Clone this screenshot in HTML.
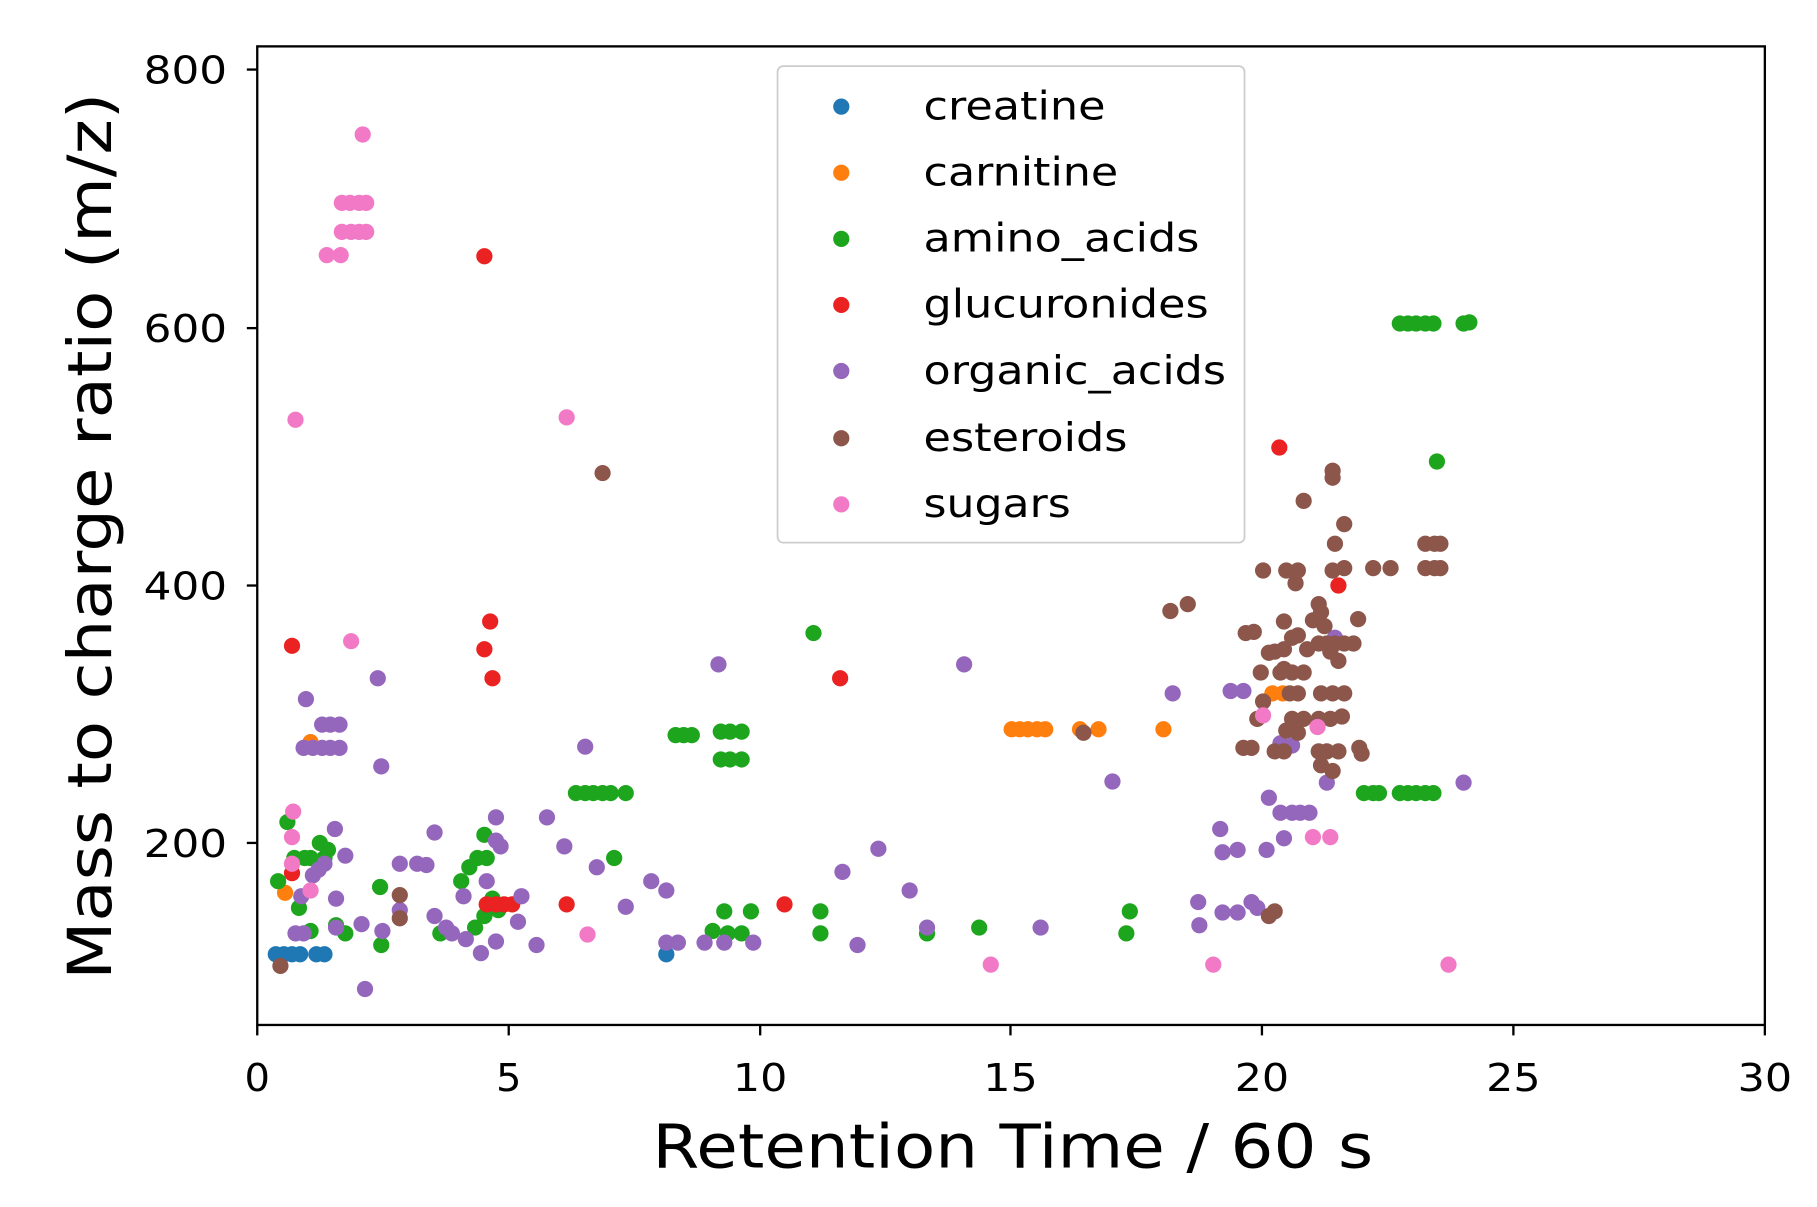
<!DOCTYPE html>
<html><head><meta charset="utf-8"><style>html,body{margin:0;padding:0;background:#fff}svg{display:block}text{font-family:"DejaVu Sans","Liberation Sans",sans-serif;fill:#000}</style></head>
<body>
<svg width="1817" height="1207" viewBox="0 0 1568 1041" preserveAspectRatio="none" xmlns="http://www.w3.org/2000/svg">
<rect width="1568" height="1041" fill="#fff"/>
<g id="pts"></g>
<rect x="222" y="40" width="1301" height="844" fill="none" stroke="#000" stroke-width="2"/>
<g stroke="#000" stroke-width="2">
<line x1="222" y1="884" x2="222" y2="893"/><line x1="439" y1="884" x2="439" y2="893"/><line x1="656" y1="884" x2="656" y2="893"/><line x1="872" y1="884" x2="872" y2="893"/><line x1="1089" y1="884" x2="1089" y2="893"/><line x1="1306" y1="884" x2="1306" y2="893"/><line x1="1523" y1="884" x2="1523" y2="893"/>
<line x1="213" y1="60" x2="222" y2="60"/><line x1="213" y1="283" x2="222" y2="283"/><line x1="213" y1="505" x2="222" y2="505"/><line x1="213" y1="727" x2="222" y2="727"/>
</g>
<g font-size="33" text-anchor="middle" lengthAdjust="spacingAndGlyphs">
<text x="222" y="941" textLength="22" lengthAdjust="spacingAndGlyphs">0</text><text x="439" y="941" textLength="22" lengthAdjust="spacingAndGlyphs">5</text><text x="656" y="941" textLength="47" lengthAdjust="spacingAndGlyphs">10</text><text x="872" y="941" textLength="47" lengthAdjust="spacingAndGlyphs">15</text><text x="1089" y="941" textLength="47" lengthAdjust="spacingAndGlyphs">20</text><text x="1306" y="941" textLength="47" lengthAdjust="spacingAndGlyphs">25</text><text x="1523" y="941" textLength="47" lengthAdjust="spacingAndGlyphs">30</text>
</g>
<g font-size="33" text-anchor="end">
<text x="196" y="72" textLength="72" lengthAdjust="spacingAndGlyphs">800</text><text x="196" y="295" textLength="72" lengthAdjust="spacingAndGlyphs">600</text><text x="196" y="517" textLength="72" lengthAdjust="spacingAndGlyphs">400</text><text x="196" y="739" textLength="72" lengthAdjust="spacingAndGlyphs">200</text>
</g>
<text x="563" y="1007" font-size="52" textLength="622" lengthAdjust="spacingAndGlyphs">Retention Time / 60 s</text>
<text transform="translate(96,845) rotate(-90)" font-size="52" textLength="765" lengthAdjust="spacingAndGlyphs">Mass to charge ratio (m/z)</text>
<rect x="671" y="57" width="403" height="411" rx="5" fill="#fff" fill-opacity="0.85" stroke="#ccc" stroke-width="1.5"/>
<g font-size="34">
<circle cx="726" cy="92" r="7" fill="#1f77b4"/><text x="797" y="103" textLength="157" lengthAdjust="spacingAndGlyphs">creatine</text>
<circle cx="726" cy="149" r="7" fill="#ff7f0e"/><text x="797" y="160" textLength="168" lengthAdjust="spacingAndGlyphs">carnitine</text>
<circle cx="726" cy="206" r="7" fill="#1ea51e"/><text x="797" y="217" textLength="238" lengthAdjust="spacingAndGlyphs">amino_acids</text>
<circle cx="726" cy="263" r="7" fill="#ea2222"/><text x="797" y="274" textLength="246" lengthAdjust="spacingAndGlyphs">glucuronides</text>
<circle cx="726" cy="320" r="7" fill="#9467bd"/><text x="797" y="331" textLength="261" lengthAdjust="spacingAndGlyphs">organic_acids</text>
<circle cx="726" cy="378" r="7" fill="#8c564b"/><text x="797" y="389" textLength="176" lengthAdjust="spacingAndGlyphs">esteroids</text>
<circle cx="726" cy="435" r="7" fill="#f279c6"/><text x="797" y="446" textLength="127" lengthAdjust="spacingAndGlyphs">sugars</text>
</g>
</svg>
<script>
const D={
"#1f77b4":[238,823,245,823,252,823,259,823,273,823,280,823,575,823],
"#ff7f0e":[246,770,268,640,873,629,880,629,887,629,895,629,902,629,932,629,948,629,1004,629,1098,598,1107,598],
"#1ea51e":[240,760,248,709,254,740,258,783,263,740,268,740,268,803,276,727,280,740,283,733,290,798,298,805,328,765,329,815,380,805,398,760,405,748,412,740,418,720,420,740,410,800,418,790,425,775,430,785,497,684,505,684,512,684,520,684,527,684,540,684,530,740,583,634,590,634,597,634,622,631,630,631,640,631,622,655,630,655,640,655,615,803,625,786,628,805,640,805,648,786,702,546,708,786,708,805,800,805,845,800,972,805,975,786,1177,684,1185,684,1190,684,1208,684,1215,684,1222,684,1230,684,1237,684,1208,279,1215,279,1222,279,1230,279,1237,279,1263,279,1268,278,1240,398],
"#ea2222":[252,557,252,753,418,221,418,560,423,536,425,585,420,780,428,780,435,780,442,780,489,780,677,780,725,585,1104,386,1155,505],
"#9467bd":[255,805,260,773,262,805,264,603,262,645,270,645,278,645,285,645,293,645,278,625,285,625,293,625,270,755,275,750,280,745,289,715,290,775,290,800,298,738,312,797,315,853,326,585,329,661,330,803,345,745,345,785,360,745,368,746,375,718,375,790,385,800,390,805,400,773,402,810,415,822,420,760,428,812,428,705,428,725,432,730,447,795,450,773,463,815,472,705,487,730,505,644,515,748,540,782,562,760,575,768,575,813,585,813,608,813,620,573,625,813,650,813,727,752,740,815,758,732,785,768,800,800,832,573,898,800,960,674,1012,598,1034,778,1035,798,1053,715,1055,735,1068,733,1062,596,1073,596,1055,787,1068,787,1080,778,1085,783,1093,733,1095,688,1105,701,1108,723,1115,701,1122,701,1130,701,1105,641,1115,643,1145,675,1152,550,1263,675],
"#8c564b":[242,833,345,772,345,792,520,408,935,632,1010,527,1025,521,1075,546,1082,545,1090,492,1088,580,1090,605,1085,620,1105,580,1095,563,1100,562,1110,492,1120,492,1118,503,1108,536,1108,560,1115,550,1120,548,1128,560,1138,555,1145,555,1152,555,1160,555,1168,555,1108,577,1115,580,1125,580,1113,598,1120,598,1115,620,1125,620,1110,630,1120,632,1133,535,1140,528,1138,521,1143,540,1172,534,1125,432,1150,406,1150,412,1160,452,1152,469,1150,492,1160,490,1185,490,1200,490,1140,598,1150,598,1160,598,1138,620,1148,620,1158,618,1100,648,1108,648,1138,648,1145,648,1155,648,1140,660,1150,665,1173,645,1175,650,1230,469,1238,469,1243,469,1230,490,1238,490,1243,490,1100,786,1095,790,1073,645,1080,645,1148,562,1155,570],
"#f279c6":[313,116,295,175,302,175,310,175,316,175,295,200,303,200,310,200,316,200,282,220,294,220,255,362,253,700,252,722,252,745,268,768,303,553,489,360,507,806,855,832,1047,832,1250,832,1090,617,1133,722,1148,722,1137,627]};
let s="";for(const c in D){const a=D[c];for(let i=0;i<a.length;i+=2)s+=`<circle cx="${a[i]}" cy="${a[i+1]}" r="7" fill="${c}"/>`;}
document.getElementById("pts").innerHTML=s;
</script>
</body></html>
